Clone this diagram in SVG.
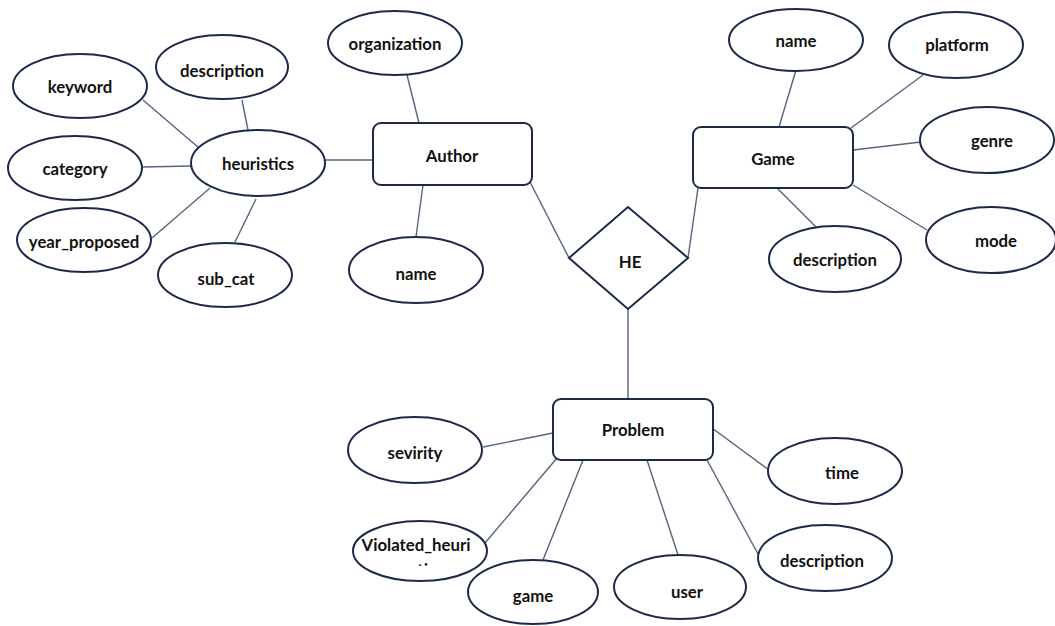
<svg xmlns="http://www.w3.org/2000/svg" width="1055" height="626" viewBox="0 0 1055 626">
<style>
.e{fill:#fff;stroke:#1c2a4a;stroke-width:2}
.r{fill:#fff;stroke:#1c2a4a;stroke-width:2}
.c line{stroke:#55657e;stroke-width:1.4}
text{font-family:Lato,"Open Sans","Liberation Sans",sans-serif;font-weight:700;font-size:16.8px;fill:#111;text-anchor:middle;dominant-baseline:central}
</style>
<defs>
<clipPath id="vclip"><rect x="340" y="520" width="160" height="46"/></clipPath>
</defs>
<rect width="1055" height="626" fill="#fff"/>
<g class="c" id="connectors">
<line x1="143" y1="100" x2="199" y2="148"/>
<line x1="242" y1="100" x2="248" y2="130"/>
<line x1="142" y1="167" x2="192" y2="166"/>
<line x1="152" y1="238" x2="210" y2="188"/>
<line x1="235" y1="242" x2="256" y2="199"/>
<line x1="325" y1="160" x2="373" y2="160"/>
<line x1="407" y1="75" x2="419" y2="123"/>
<line x1="423" y1="185" x2="416" y2="237"/>
<line x1="530" y1="182" x2="569" y2="258"/>
<line x1="698" y1="188" x2="688" y2="258"/>
<line x1="628" y1="309" x2="628" y2="399"/>
<line x1="796" y1="70" x2="779" y2="127"/>
<line x1="923" y1="75" x2="851" y2="128"/>
<line x1="853" y1="150" x2="921" y2="142"/>
<line x1="853" y1="185" x2="927" y2="230"/>
<line x1="777" y1="188" x2="817" y2="228"/>
<line x1="483" y1="447" x2="553" y2="433"/>
<line x1="485" y1="543" x2="557" y2="458"/>
<line x1="543" y1="560" x2="583" y2="460"/>
<line x1="647" y1="460" x2="678" y2="555"/>
<line x1="712" y1="428" x2="769" y2="470"/>
<line x1="707" y1="460" x2="758" y2="554"/>
</g>
<g id="keyword"><ellipse class="e" cx="80" cy="86" rx="67" ry="32"/><text x="80" y="86">keyword</text></g>
<g id="description_h"><ellipse class="e" cx="222" cy="67" rx="66" ry="32"/><text x="222" y="70">description</text></g>
<g id="category"><ellipse class="e" cx="75" cy="168" rx="67" ry="32"/><text x="75" y="168">category</text></g>
<g id="year_proposed"><ellipse class="e" cx="84" cy="240" rx="67" ry="32"/><text x="84" y="241">year_proposed</text></g>
<g id="sub_cat"><ellipse class="e" cx="225" cy="275" rx="67" ry="32"/><text x="226" y="278">sub_cat</text></g>
<g id="heuristics"><ellipse class="e" cx="258" cy="163" rx="67" ry="33"/><text x="258" y="163">heuristics</text></g>
<g id="organization"><ellipse class="e" cx="395" cy="43" rx="67" ry="32"/><text x="395" y="43">organization</text></g>
<g id="author"><rect class="r" x="373" y="123" width="159" height="62" rx="8"/><text x="452" y="155">Author</text></g>
<g id="name_a"><ellipse class="e" cx="416" cy="270" rx="67" ry="33"/><text x="416" y="273">name</text></g>
<g id="he"><polygon class="r" points="569,258 628,207 688,258 628,309"/><text x="630" y="261">HE</text></g>
<g id="game"><rect class="r" x="693" y="127" width="160" height="61" rx="8"/><text x="773" y="158">Game</text></g>
<g id="name_g"><ellipse class="e" cx="796" cy="40" rx="67" ry="31"/><text x="796" y="40">name</text></g>
<g id="platform"><ellipse class="e" cx="956" cy="45" rx="67" ry="33"/><text x="957" y="44">platform</text></g>
<g id="genre"><ellipse class="e" cx="987" cy="140" rx="67" ry="33"/><text x="992" y="140">genre</text></g>
<g id="mode"><ellipse class="e" cx="991" cy="240" rx="65" ry="33"/><text x="996" y="240">mode</text></g>
<g id="description_g"><ellipse class="e" cx="835" cy="259" rx="66" ry="33"/><text x="835" y="259">description</text></g>
<g id="problem"><rect class="r" x="553" y="399" width="160" height="61" rx="8"/><text x="633" y="429">Problem</text></g>
<g id="sevirity"><ellipse class="e" cx="415" cy="450" rx="67" ry="33"/><text x="415" y="452">sevirity</text></g>
<g id="violated"><ellipse class="e" cx="420" cy="551" rx="67" ry="30"/><text x="416" y="544">Violated_heuri</text><text x="423" y="569" clip-path="url(#vclip)">stic</text></g>
<g id="game_p"><ellipse class="e" cx="533" cy="592" rx="65" ry="32"/><text x="533" y="595">game</text></g>
<g id="user"><ellipse class="e" cx="680" cy="587" rx="66" ry="32"/><text x="687" y="591">user</text></g>
<g id="time"><ellipse class="e" cx="835" cy="471" rx="67" ry="33"/><text x="842" y="472">time</text></g>
<g id="description_p"><ellipse class="e" cx="825" cy="558" rx="67" ry="33"/><text x="822" y="560">description</text></g>
</svg>
